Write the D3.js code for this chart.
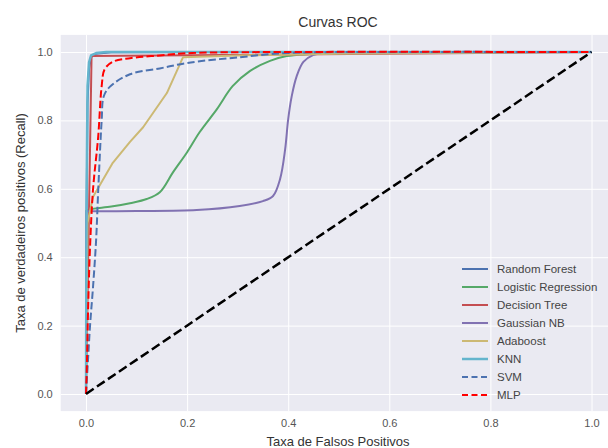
<!DOCTYPE html>
<html><head><meta charset="utf-8">
<script src="https://cdn.jsdelivr.net/npm/d3@7"></script>
<style>
html,body{margin:0;padding:0;background:#fff;}
svg{display:block;font-family:"Liberation Sans",Arial,sans-serif;}
</style></head>
<body><svg id="c" width="608" height="448"></svg>
<script>
// ---- data ----
const modelNames = ["Random Forest","Logistic Regression","Decision Tree","Gaussian NB","Adaboost","KNN","SVM","MLP"];
const rfFpr = [0,0.001,0.003,0.006,0.01,0.02,0.05,0.2,1];
const rfTpr = [0,0.5,0.85,0.95,0.985,0.995,0.999,1,1];
const lrFpr = [0,0,0.008,0.05,0.087,0.12,0.146,0.172,0.2,0.225,0.259,0.29,0.324,0.364,0.397,0.443,0.5,1];
const lrTpr = [0,0.535,0.54,0.548,0.558,0.57,0.59,0.648,0.707,0.766,0.833,0.90,0.944,0.974,0.988,0.994,0.998,1];
const dtFpr = [0,0.011,1];
const dtTpr = [0,0.988,1];
const nbFpr = [0,0,0.1,0.219,0.304,0.35,0.37,0.384,0.394,0.40,0.407,0.417,0.43,0.449,0.47,0.6,1];
const nbTpr = [0,0.534,0.535,0.538,0.55,0.564,0.579,0.629,0.716,0.804,0.871,0.93,0.971,0.991,0.997,0.999,1];
const abFpr = [0,0.003,0.014,0.053,0.087,0.113,0.16,0.192,0.3,0.5,1];
const abTpr = [0,0.5,0.577,0.676,0.737,0.78,0.88,0.985,0.99,0.995,1];
const knFpr = [0,0.001,0.003,0.006,0.01,0.02,0.04,1];
const knTpr = [0,0.55,0.9,0.97,0.99,0.997,1,1];
const svFpr = [0,0.004,0.008,0.014,0.02,0.024,0.031,0.035,0.047,0.087,0.146,0.2,0.305,0.40,0.6,1];
const svTpr = [0,0.1,0.2,0.315,0.45,0.59,0.8,0.87,0.898,0.935,0.952,0.968,0.985,0.997,1,1];
const mlFpr = [0,0.002,0.004,0.008,0.014,0.024,0.031,0.037,0.054,0.087,0.146,0.21,0.4,1];
const mlTpr = [0,0.1,0.24,0.43,0.6,0.75,0.9,0.95,0.972,0.982,0.99,0.997,1,1];
const xTicks = [0,0.2,0.4,0.6,0.8,1.0];
const yTicks = [0,0.2,0.4,0.6,0.8,1.0];

// smoothFrom: index from which the curve is drawn smoothly (-1 = straight)
const curves = [
  {name:modelNames[0], fpr:rfFpr, tpr:rfTpr, color:"#4C72B0", w:2, dash:null, smoothFrom:-1},
  {name:modelNames[1], fpr:lrFpr, tpr:lrTpr, color:"#55A868", w:2, dash:null, smoothFrom:1},
  {name:modelNames[2], fpr:dtFpr, tpr:dtTpr, color:"#C44E52", w:2, dash:null, smoothFrom:-1},
  {name:modelNames[3], fpr:nbFpr, tpr:nbTpr, color:"#8172B2", w:2, dash:null, smoothFrom:1},
  {name:modelNames[4], fpr:abFpr, tpr:abTpr, color:"#CCB974", w:2, dash:null, smoothFrom:-1},
  {name:modelNames[5], fpr:knFpr, tpr:knTpr, color:"#64B5CD", w:2.5, dash:null, smoothFrom:-1},
  {name:modelNames[6], fpr:svFpr, tpr:svTpr, color:"#4C72B0", w:2, dash:"7.4,3.2", smoothFrom:0},
  {name:modelNames[7], fpr:mlFpr, tpr:mlTpr, color:"#FF0000", w:2, dash:"7.4,3.2", smoothFrom:0}
];

const svg = d3.select("#c");
const x = d3.scaleLinear().domain([0,1]).range([86,591.5]);
const y = d3.scaleLinear().domain([0,1]).range([394,52]);
const x0 = x(-0.05), x1 = x(1.05), y0 = y(-0.05), y1 = y(1.05);

svg.append("rect").attr("x",x0).attr("y",y1).attr("width",x1-x0).attr("height",y0-y1).attr("fill","#EAEAF2");

svg.append("clipPath").attr("id","pc").append("rect")
  .attr("x",x0).attr("y",y1).attr("width",x1-x0).attr("height",y0-y1);

const gx = svg.append("g").attr("transform",`translate(0,${y0})`)
  .call(d3.axisBottom(x).tickValues(xTicks).tickFormat(d3.format(".1f")).tickSize(-(y0-y1)).tickPadding(8));
const gy = svg.append("g").attr("transform",`translate(${x0},0)`)
  .call(d3.axisLeft(y).tickValues(yTicks).tickFormat(d3.format(".1f")).tickSize(-(x1-x0)).tickPadding(8));
[gx,gy].forEach(g=>{
  g.select(".domain").remove();
  g.selectAll(".tick line").attr("stroke","#fff").attr("stroke-width",1);
  g.selectAll(".tick text").attr("fill","#555").attr("font-size","11px")
   .attr("font-family","'Liberation Sans',Arial,sans-serif");
});

const plot = svg.append("g").attr("clip-path","url(#pc)");
const lineStraight = d3.line().x(d=>x(d[0])).y(d=>y(d[1]));
const lineSmooth = d3.line().x(d=>x(d[0])).y(d=>y(d[1])).curve(d3.curveCatmullRom.alpha(0.5));
curves.forEach(c=>{
  const pts = c.fpr.map((f,i)=>[f,c.tpr[i]]);
  const draw = (d)=>plot.append("path").attr("d",d).attr("fill","none")
    .attr("stroke",c.color).attr("stroke-width",c.w)
    .attr("stroke-dasharray",c.dash).attr("stroke-linejoin","round");
  if (c.smoothFrom < 0) {
    draw(lineStraight(pts));
  } else {
    const k = c.smoothFrom;
    let d = "";
    if (k > 0) d += lineStraight(pts.slice(0,k+1));
    const s = lineSmooth(pts.slice(k));
    d += k > 0 ? s.replace(/^M[^A-Za-z]*/, "") : s;
    draw(d);
  }
});
plot.append("path").attr("d",lineStraight([[0,0],[1,1]])).attr("fill","none")
  .attr("stroke","#000").attr("stroke-width",2.5).attr("stroke-dasharray","9.25,4");

// legend
const lg = svg.append("g");
curves.forEach((c,i)=>{
  const yy = 269 + i*18;
  lg.append("line").attr("x1",462).attr("x2",488).attr("y1",yy).attr("y2",yy)
    .attr("stroke",c.color).attr("stroke-width",c.w).attr("stroke-dasharray",c.dash ? "6,3.5" : null);
  lg.append("text").attr("x",497).attr("y",yy+4).attr("font-size","11.5px").attr("fill","#444").text(c.name);
});

// labels
svg.append("text").attr("x",338).attr("y",27).attr("text-anchor","middle").attr("font-size","14px").attr("fill","#333").text("Curvas ROC");
svg.append("text").attr("x",338).attr("y",446).attr("text-anchor","middle").attr("font-size","13px").attr("fill","#333").text("Taxa de Falsos Positivos");
svg.append("text").attr("transform","translate(25,223) rotate(-90)").attr("text-anchor","middle").attr("font-size","13px").attr("fill","#333").text("Taxa de verdadeiros positivos (Recall)");
</script></body></html>
